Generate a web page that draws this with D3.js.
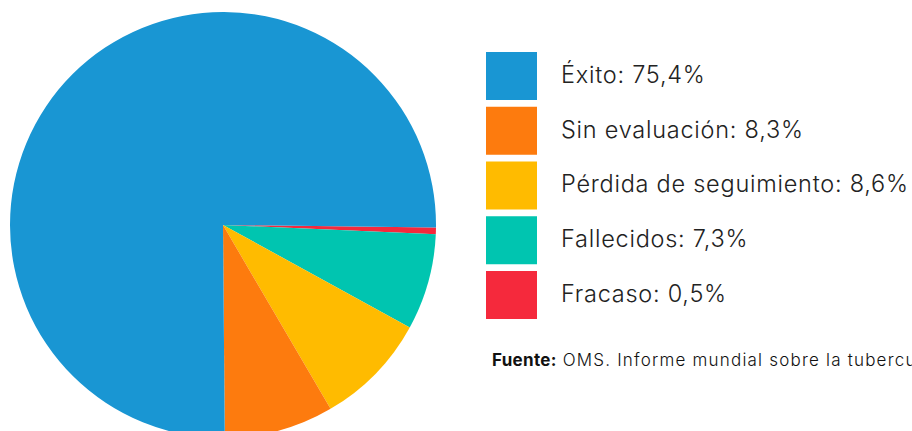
<!DOCTYPE html>
<html><head><meta charset="utf-8">
<script src="https://cdn.jsdelivr.net/npm/d3@7"></script>
<style>
html,body{margin:0;padding:0;background:#fff;overflow:hidden;}
svg{display:block;}
</style></head>
<body>
<script>
const categories = ["Éxito", "Sin evaluación", "Pérdida de seguimiento", "Fallecidos", "Fracaso"];
const values = [75.4, 8.3, 8.6, 7.3, 0.5];
const labels = ["Éxito: 75,4%", "Sin evaluación: 8,3%", "Pérdida de seguimiento: 8,6%", "Fallecidos: 7,3%", "Fracaso: 0,5%"];
const colors = ["#1996d3", "#fd7b0e", "#ffbb00", "#00c5b0", "#f5293c"];
const sourceBold = "Fuente:";
const sourceText = " OMS. Informe mundial sobre la tuberculosis";

const W = 912, H = 431;
const svg = d3.select("body").append("svg").attr("width", W).attr("height", H);

const cx = 223, cy = 225, R = 213;
const data = categories.map((c, i) => ({cat: c, value: values[i], color: colors[i], label: labels[i]}));
// slices drawn clockwise from 3 o'clock, smallest category first
const pieData = data.slice().reverse();
const start = Math.PI / 2 + 0.012;
const pie = d3.pie().sort(null).value(d => d.value)
  .startAngle(start).endAngle(start + 2 * Math.PI);
const arc = d3.arc().innerRadius(0).outerRadius(R);
svg.append("g").attr("transform", `translate(${cx},${cy})`)
  .selectAll("path").data(pie(pieData)).join("path")
  .attr("d", arc).attr("fill", d => d.data.color);

const step = 54.75;
const lg = svg.append("g").attr("transform", "translate(486,52)");
const rows = lg.selectAll("g").data(data).join("g")
  .attr("transform", (d, i) => `translate(0,${i * step})`);
rows.append("rect").attr("width", 51).attr("height", 48).attr("fill", d => d.color);
rows.append("text").attr("x", 75).attr("y", 30.8)
  .attr("font-family", "Inter, 'Open Sans', sans-serif").attr("font-size", 23.5)
  .attr("font-weight", 300).attr("letter-spacing", 0.75)
  .attr("fill", "#222").text(d => d.label);

const src = svg.append("text").attr("x", 492).attr("y", 366)
  .attr("font-family", "Inter, 'Open Sans', sans-serif").attr("font-size", 17)
  .attr("letter-spacing", 1.2).attr("fill", "#111");
src.append("tspan").attr("font-weight", 700).attr("letter-spacing", 0.3).text(sourceBold);
src.append("tspan").attr("font-weight", 300).text(sourceText);
</script>
</body></html>
